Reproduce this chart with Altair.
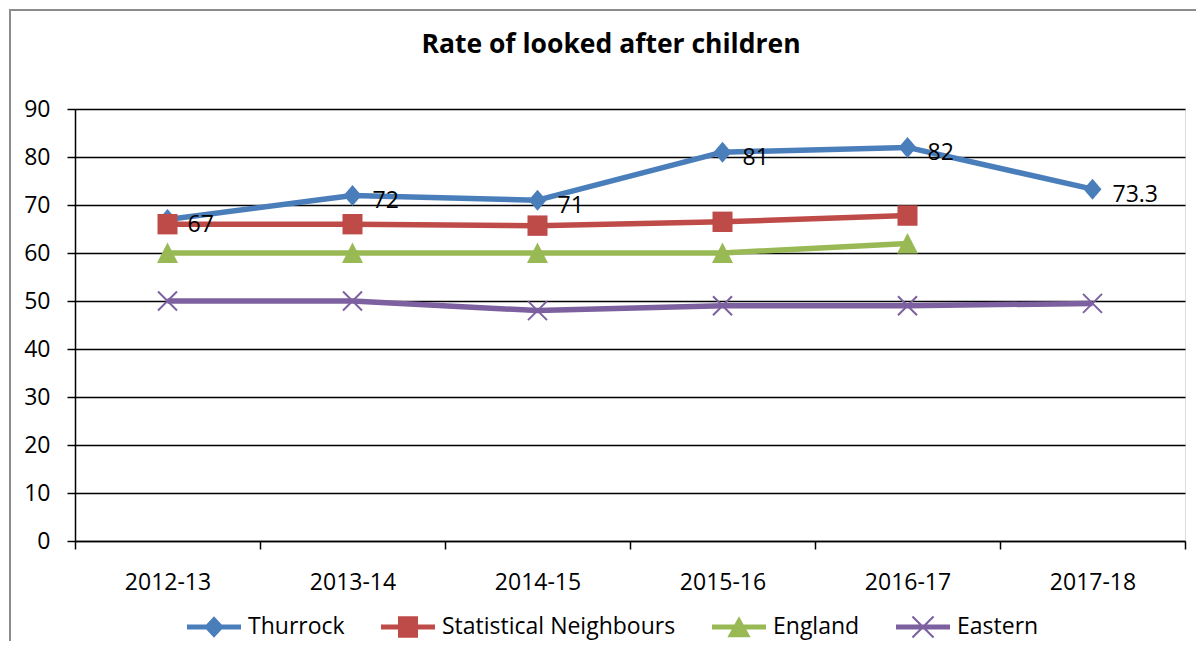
import altair as alt
import pandas as pd

years = ["2012-13", "2013-14", "2014-15", "2015-16", "2016-17", "2017-18"]
series_names = ["Thurrock", "Statistical Neighbours", "England", "Eastern"]
thurrock = [67, 72, 71, 81, 82, 73.3]
stat_neighbours = [66, 66, 65.7, 66.5, 67.8]
england = [60, 60, 60, 60, 62]
eastern = [50, 50, 48, 49, 49, 49.5]
series_values = [thurrock, stat_neighbours, england, eastern]
colors = ["#4A7EBB", "#BE4B48", "#98B954", "#7D60A0"]
labelled_series = "Thurrock"
title_text = "Rate of looked after children"

FONT = "Open Sans"
FS = 23


def xpath(a, d):
    arm1 = f"M{-a+d},{-a-d}L{a+d},{a-d}L{a-d},{a+d}L{-a-d},{-a+d}Z"
    arm2 = f"M{-a-d},{a-d}L{a-d},{-a-d}L{a+d},{-a+d}L{-a+d},{a+d}Z"
    return arm1 + arm2


# marker shapes in chart (unit = 10 px, size 400)
point_shapes = [
    "M0,-1.05L0.9,0L0,1.05L-0.9,0Z",
    "M-1,-1.02L1,-1.02L1,1.02L-1,1.02Z",
    "M0,-1.05L1.05,1L-1.05,1Z",
    xpath(0.95, 0.07),
]
# legend symbols: line bar + marker (unit = 27 px, size 2916)
bar = "M-1,-0.095L1,-0.095L1,0.095L-1,0.095Z"
legend_shapes = [
    bar + "M0,-0.40L0.37,0L0,0.40L-0.37,0Z",
    bar + "M-0.37,-0.40L0.37,-0.40L0.37,0.40L-0.37,0.40Z",
    bar + "M0,-0.40L0.43,0.38L-0.43,0.38Z",
    bar + xpath(0.39, 0.027),
]

rows = []
for i, (name, vals) in enumerate(zip(series_names, series_values)):
    for yr, v in zip(years, vals):
        rows.append({
            "year": yr, "series": name, "value": v, "order": i,
            "col": colors[i], "pshape": point_shapes[i],
            "label": (f"{v:g}" if name == labelled_series else ""),
        })
df = pd.DataFrame(rows)

x_enc = alt.X(
    "year:O",
    sort=years,
    scale=alt.Scale(type="band", paddingInner=0, paddingOuter=0),
    axis=alt.Axis(
        title=None, labelAngle=0, tickBand="extent", tickSize=8,
        tickColor="black", tickWidth=1.5, domainColor="black", domainWidth=1.5,
        labelFont=FONT, labelFontSize=FS, labelColor="black", labelPadding=22,
        grid=False,
    ),
)
y_enc = alt.Y(
    "value:Q",
    scale=alt.Scale(domain=[0, 90], nice=False),
    axis=alt.Axis(
        title=None, values=list(range(0, 91, 10)), tickSize=8,
        tickColor="black", tickWidth=1.5, domainColor="black", domainWidth=1.5,
        grid=True, gridColor="black", gridWidth=1.5, gridOpacity=1,
        labelFont=FONT, labelFontSize=FS, labelColor="black", labelPadding=17,
        labelAlign="right",
    ),
)

base = alt.Chart(df)

frame = alt.Chart(alt.Data(values=[{}])).mark_rect(
    fillOpacity=0, stroke="#8C8C8C", strokeWidth=2
).encode(
    x=alt.value(-65), x2=alt.value(1300), y=alt.value(-99), y2=alt.value(700)
)

title = alt.Chart(alt.Data(values=[{"t": title_text}])).mark_text(
    font=FONT, fontSize=26.5, fontWeight="bold", color="black",
    align="center", baseline="alphabetic",
).encode(x=alt.value(536), y=alt.value(-56), text="t:N")

lines = base.mark_line(strokeWidth=5.5, strokeJoin="round").encode(
    x=x_enc, y=y_enc,
    color=alt.Color("col:N", scale=None),
    detail="order:O",
    order="order:O",
)

points = base.mark_point(filled=True, opacity=1, size=400, strokeWidth=0).encode(
    x=x_enc, y=y_enc,
    color=alt.Color("col:N", scale=None),
    shape=alt.Shape("pshape:N", scale=None),
)

legend_layer = base.mark_point(filled=True, size=0, opacity=1).encode(
    x=x_enc, y=y_enc,
    color=alt.Color(
        "series:N",
        scale=alt.Scale(domain=series_names, range=colors),
        legend=alt.Legend(
            orient="none", legendX=112, legendY=491, direction="horizontal",
            title=None, symbolSize=2916, symbolOpacity=1, symbolStrokeWidth=0,
            labelFont=FONT, labelFontSize=FS, labelColor="black",
            labelOffset=7, columnPadding=36, padding=0, labelLimit=400,
        ),
    ),
    shape=alt.Shape(
        "series:N",
        scale=alt.Scale(domain=series_names, range=legend_shapes),
    ),
)

labels = base.mark_text(
    align="left", baseline="middle", dx=20, dy=6,
    font=FONT, fontSize=FS, color="black",
).encode(x=x_enc, y=y_enc, text="label:N")

chart = alt.layer(frame, title, lines, points, legend_layer, labels).resolve_scale(
    color="independent", shape="independent"
).properties(
    width=1110, height=432,
    autosize=alt.AutoSizeParams(type="none"),
    padding={"left": 67, "top": 101, "right": 11, "bottom": 100},
).configure_view(stroke=None).configure(background="white")

chart.save("out.html", embed_options={"renderer": "svg", "actions": False})
